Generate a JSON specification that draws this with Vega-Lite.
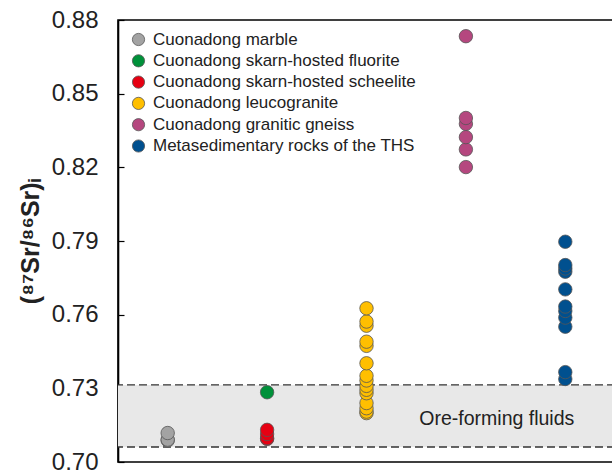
{
  "$schema": "https://vega.github.io/schema/vega-lite/v6.json",
  "width": 497,
  "height": 442,
  "autosize": "none",
  "padding": {"left": 118, "top": 20, "right": 0, "bottom": 11},
  "background": "white",
  "config": {
    "font": "Liberation Sans",
    "view": {"stroke": "#000", "strokeWidth": 1.6},
    "axis": {"grid": false}
  },
  "datasets": {
    "samples": [
      {"column": "Marble", "group": "Cuonadong marble", "sr": 0.7088},
      {"column": "Marble", "group": "Cuonadong marble", "sr": 0.7091},
      {"column": "Marble", "group": "Cuonadong marble", "sr": 0.7118},
      {"column": "Skarn", "group": "Cuonadong skarn-hosted fluorite", "sr": 0.7284},
      {"column": "Skarn", "group": "Cuonadong skarn-hosted scheelite", "sr": 0.7094},
      {"column": "Skarn", "group": "Cuonadong skarn-hosted scheelite", "sr": 0.7097},
      {"column": "Skarn", "group": "Cuonadong skarn-hosted scheelite", "sr": 0.7114},
      {"column": "Skarn", "group": "Cuonadong skarn-hosted scheelite", "sr": 0.7131},
      {"column": "Leucogranite", "group": "Cuonadong leucogranite", "sr": 0.7199},
      {"column": "Leucogranite", "group": "Cuonadong leucogranite", "sr": 0.7205},
      {"column": "Leucogranite", "group": "Cuonadong leucogranite", "sr": 0.7219},
      {"column": "Leucogranite", "group": "Cuonadong leucogranite", "sr": 0.7240},
      {"column": "Leucogranite", "group": "Cuonadong leucogranite", "sr": 0.7280},
      {"column": "Leucogranite", "group": "Cuonadong leucogranite", "sr": 0.7294},
      {"column": "Leucogranite", "group": "Cuonadong leucogranite", "sr": 0.7310},
      {"column": "Leucogranite", "group": "Cuonadong leucogranite", "sr": 0.7332},
      {"column": "Leucogranite", "group": "Cuonadong leucogranite", "sr": 0.7351},
      {"column": "Leucogranite", "group": "Cuonadong leucogranite", "sr": 0.7402},
      {"column": "Leucogranite", "group": "Cuonadong leucogranite", "sr": 0.7473},
      {"column": "Leucogranite", "group": "Cuonadong leucogranite", "sr": 0.7490},
      {"column": "Leucogranite", "group": "Cuonadong leucogranite", "sr": 0.7555},
      {"column": "Leucogranite", "group": "Cuonadong leucogranite", "sr": 0.7572},
      {"column": "Leucogranite", "group": "Cuonadong leucogranite", "sr": 0.7626},
      {"column": "Gneiss", "group": "Cuonadong granitic gneiss", "sr": 0.8201},
      {"column": "Gneiss", "group": "Cuonadong granitic gneiss", "sr": 0.8273},
      {"column": "Gneiss", "group": "Cuonadong granitic gneiss", "sr": 0.8323},
      {"column": "Gneiss", "group": "Cuonadong granitic gneiss", "sr": 0.8377},
      {"column": "Gneiss", "group": "Cuonadong granitic gneiss", "sr": 0.8401},
      {"column": "Gneiss", "group": "Cuonadong granitic gneiss", "sr": 0.8734},
      {"column": "THS", "group": "Metasedimentary rocks of the THS", "sr": 0.7338},
      {"column": "THS", "group": "Metasedimentary rocks of the THS", "sr": 0.7366},
      {"column": "THS", "group": "Metasedimentary rocks of the THS", "sr": 0.7551},
      {"column": "THS", "group": "Metasedimentary rocks of the THS", "sr": 0.7588},
      {"column": "THS", "group": "Metasedimentary rocks of the THS", "sr": 0.7615},
      {"column": "THS", "group": "Metasedimentary rocks of the THS", "sr": 0.7633},
      {"column": "THS", "group": "Metasedimentary rocks of the THS", "sr": 0.7703},
      {"column": "THS", "group": "Metasedimentary rocks of the THS", "sr": 0.7775},
      {"column": "THS", "group": "Metasedimentary rocks of the THS", "sr": 0.7788},
      {"column": "THS", "group": "Metasedimentary rocks of the THS", "sr": 0.7802},
      {"column": "THS", "group": "Metasedimentary rocks of the THS", "sr": 0.7897}
    ],
    "fluids": [
      {"low": 0.7061, "high": 0.7314, "label": "Ore-forming fluids", "column": "THS", "mid": 0.7175}
    ]
  },
  "layer": [
    {
      "data": {"name": "fluids"},
      "mark": {"type": "rect", "fill": "#e8e8e8"},
      "encoding": {
        "y": {
          "field": "low",
          "type": "quantitative",
          "scale": {"domain": [0.7, 0.88], "nice": false, "zero": false},
          "axis": {
            "title": "(⁸⁷Sr/⁸⁶Sr)ᵢ",
            "titleFontSize": 25,
            "titleFontWeight": "bold",
            "titleColor": "#222",
            "titlePadding": 8,
            "values": [0.7, 0.73, 0.76, 0.79, 0.82, 0.85, 0.88],
            "format": ".2f",
            "labelFontSize": 24,
            "labelColor": "#222",
            "labelPadding": 26,
            "tickSize": -6,
            "tickColor": "#000",
            "tickWidth": 1.2,
            "domainColor": "#000",
            "domainWidth": 1.6
          }
        },
        "y2": {"field": "high"}
      }
    },
    {
      "data": {"name": "fluids"},
      "mark": {"type": "rule", "stroke": "#333", "strokeWidth": 1.3, "strokeDash": [8, 4]},
      "encoding": {"y": {"field": "low", "type": "quantitative"}}
    },
    {
      "data": {"name": "fluids"},
      "mark": {"type": "rule", "stroke": "#333", "strokeWidth": 1.3, "strokeDash": [8, 4]},
      "encoding": {"y": {"field": "high", "type": "quantitative"}}
    },
    {
      "data": {"name": "samples"},
      "mark": {"type": "point", "shape": "circle", "filled": true, "size": 180, "opacity": 1, "stroke": "#555", "strokeWidth": 0.8},
      "encoding": {
        "x": {
          "field": "column",
          "type": "nominal",
          "scale": {"type": "point", "domain": ["Marble", "Skarn", "Leucogranite", "Gneiss", "THS"], "padding": 0.5},
          "axis": null
        },
        "y": {"field": "sr", "type": "quantitative"},
        "fill": {
          "field": "group",
          "type": "nominal",
          "scale": {
            "domain": [
              "Cuonadong marble",
              "Cuonadong skarn-hosted fluorite",
              "Cuonadong skarn-hosted scheelite",
              "Cuonadong leucogranite",
              "Cuonadong granitic gneiss",
              "Metasedimentary rocks of the THS"
            ],
            "range": ["#a3a3a3", "#00913a", "#e60012", "#ffbf00", "#b5477f", "#00508f"]
          },
          "legend": {
            "title": null,
            "orient": "none",
            "legendX": 12,
            "legendY": 11,
            "labelFontSize": 17,
            "labelColor": "#222",
            "labelLimit": 400,
            "symbolSize": 150,
            "symbolStrokeColor": "#555",
            "symbolStrokeWidth": 0.8,
            "symbolType": "circle",
            "rowPadding": 3.3,
            "labelOffset": 6
          }
        }
      }
    },
    {
      "data": {"name": "fluids"},
      "mark": {"type": "text", "align": "right", "baseline": "middle", "fontSize": 19.5, "color": "#222", "dx": 9},
      "encoding": {
        "x": {"field": "column", "type": "nominal"},
        "y": {"field": "mid", "type": "quantitative"},
        "text": {"field": "label"}
      }
    }
  ]
}
